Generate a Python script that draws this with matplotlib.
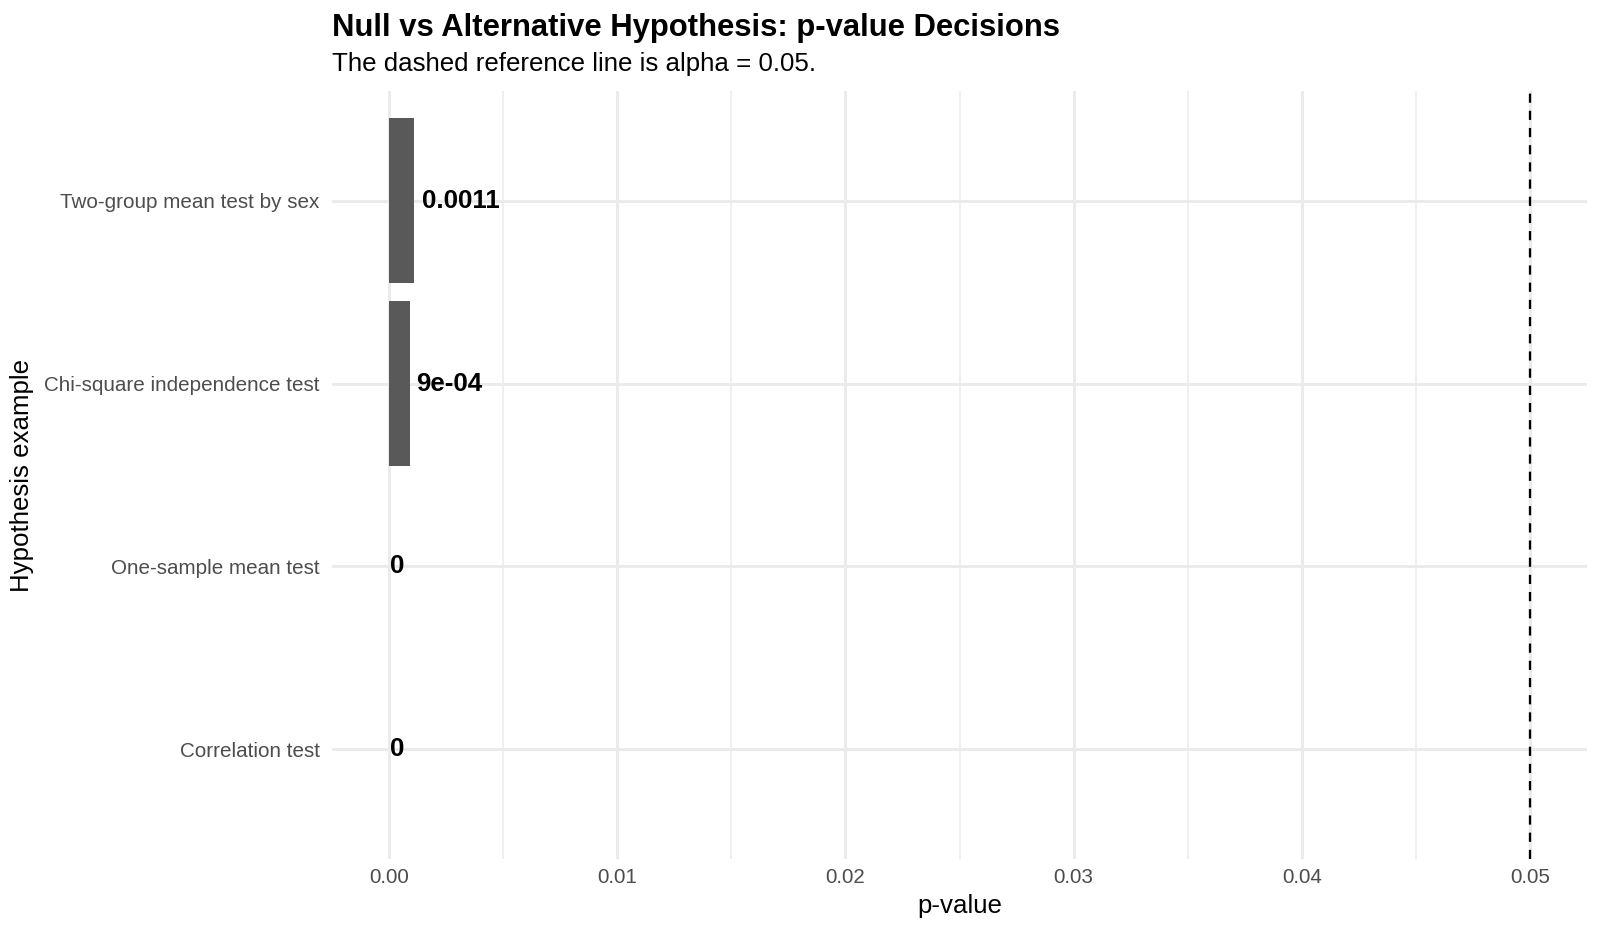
import matplotlib
matplotlib.use("Agg")
import matplotlib.pyplot as plt
from matplotlib.transforms import offset_copy
import numpy as np

categories = ["Correlation test", "One-sample mean test",
              "Chi-square independence test", "Two-group mean test by sex"]
p_values = [0.0, 0.0, 0.0009, 0.0011]
value_labels = ["0", "0", "9e-04", "0.0011"]
alpha = 0.05
x_ticks = [0.00, 0.01, 0.02, 0.03, 0.04, 0.05]
x_tick_labels = ["0.00", "0.01", "0.02", "0.03", "0.04", "0.05"]
x_minor = [0.005, 0.015, 0.025, 0.035, 0.045]

plt.rcParams['font.family'] = ['Liberation Sans', 'DejaVu Sans']

W, H, DPI = 1600, 933, 150
fig = plt.figure(figsize=(W / DPI, H / DPI), dpi=DPI)
left, right, top, bottom = 332 / W, 1587 / W, 91 / H, 859 / H
ax = fig.add_axes([left, 1 - bottom, right - left, bottom - top])

ypos = np.arange(len(categories))
grid_c = "#EBEBEB"
for xm in x_minor:
    ax.axvline(xm, color=grid_c, lw=0.75, zorder=0)
for xt in x_ticks:
    ax.axvline(xt, color=grid_c, lw=1.4, zorder=0)
for y in ypos:
    ax.axhline(y, color=grid_c, lw=1.4, zorder=0)

ax.barh(ypos, p_values, height=0.9, color="#595959", zorder=2)
ax.axvline(alpha, color="black", lw=1.1, linestyle=(0, (4, 3.5)), zorder=3)

ax.set_xlim(-0.0025, 0.0525)
ax.set_ylim(-0.6, len(categories) - 1 + 0.6)
ax.set_xticks(x_ticks)
ax.set_xticklabels(x_tick_labels)
ax.set_yticks(ypos)
ax.set_yticklabels(categories)
ax.tick_params(axis='both', length=0, labelsize=9.9, labelcolor="#4D4D4D")
ax.tick_params(axis='y', pad=6)
ax.tick_params(axis='x', pad=4.5)
for s in ax.spines.values():
    s.set_visible(False)
ax.set_xlabel("p-value", fontsize=12.4, labelpad=3)
ax.set_ylabel("Hypothesis example", fontsize=12.4, labelpad=5)

texts = []
for y, v, lab in zip(ypos, p_values, value_labels):
    t = ax.text(v, y, lab, ha='left', va='center', fontsize=12.4,
                fontweight='bold', color='black', zorder=4)
    texts.append(t)
fig.canvas.draw()
r = fig.canvas.get_renderer()
for t in texts:
    w = t.get_window_extent(r).width
    t.set_transform(offset_copy(ax.transData, fig=fig, x=0.1 * w * 72 / DPI, units='points'))

fig.text(left, 1 - 36 / H, "Null vs Alternative Hypothesis: p-value Decisions",
         fontsize=14.9, fontweight='bold', ha='left', va='baseline')
fig.text(left, 1 - 71 / H, "The dashed reference line is alpha = 0.05.",
         fontsize=12.4, ha='left', va='baseline')

fig.savefig("out.png", dpi=DPI, facecolor="white")
